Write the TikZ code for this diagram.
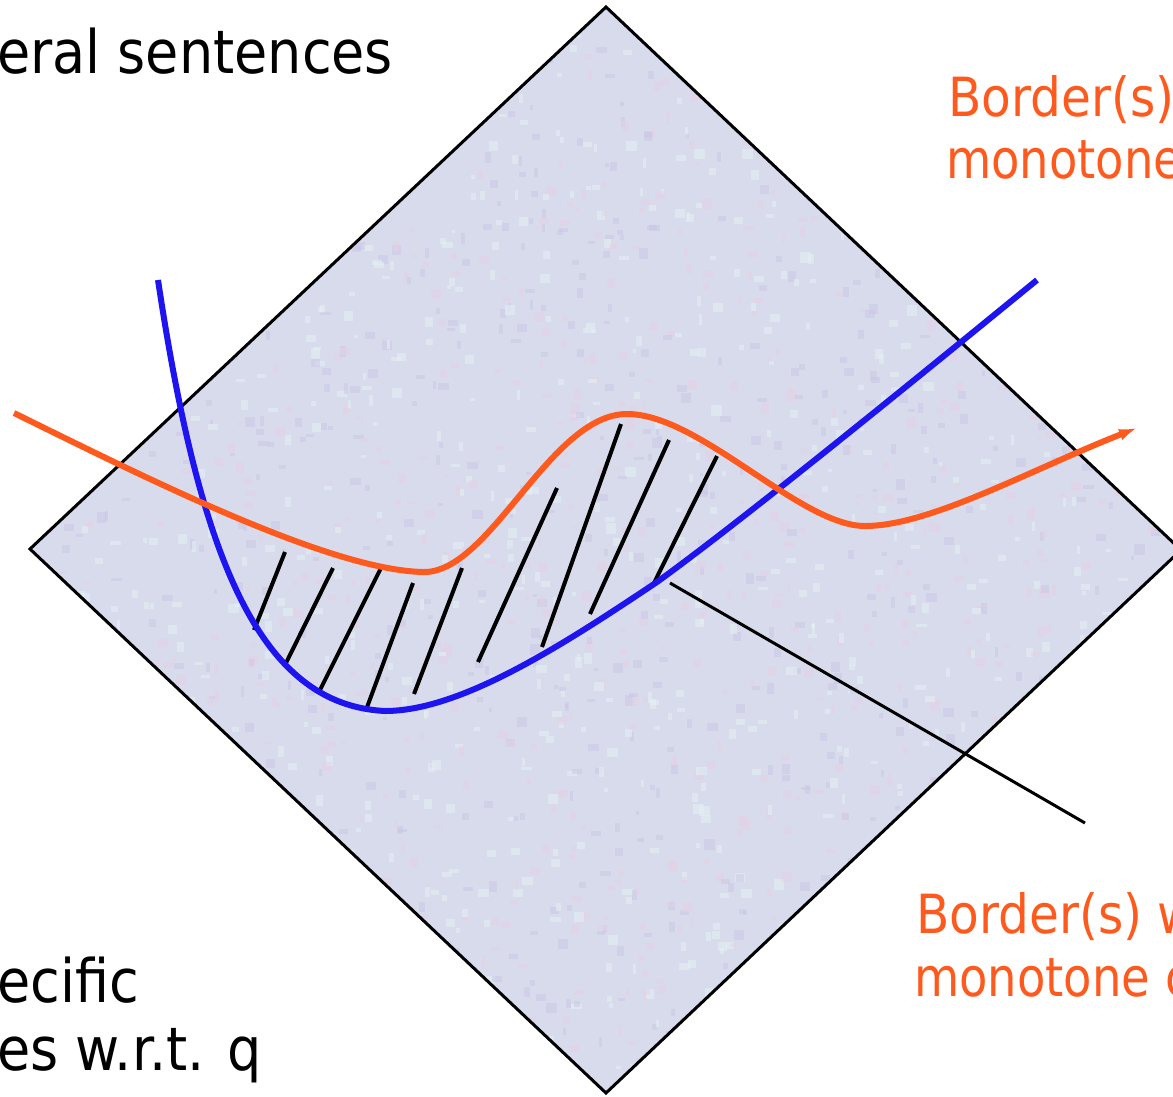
\documentclass[tikz,border=0pt]{standalone}
\usepackage{fontspec}
\setmainfont{DejaVu Sans}
\newfontfamily\labelfont[FakeStretch=0.9]{DejaVu Sans}
\newfontfamily\narrowlabelfont[FakeStretch=0.86]{DejaVu Sans}
\usetikzlibrary{arrows.meta}
\definecolor{bgfill}{RGB}{216,219,236}
\definecolor{bgpink}{RGB}{228,210,230}
\definecolor{bglight}{RGB}{226,240,244}
\definecolor{bgpurple}{RGB}{200,196,228}
\definecolor{borange}{RGB}{255,90,30}
\definecolor{bblue}{RGB}{30,20,240}
\begin{document}
\begin{tikzpicture}[x=1pt,y=-1pt,
  blacklabel/.style={anchor=base west, inner sep=0pt, text=black, font=\labelfont\fontsize{60}{66}\selectfont},
  orangelabel/.style={anchor=base west, inner sep=0pt, text=borange, font=\labelfont\fontsize{54}{60}\selectfont},
  orangenarrow/.style={orangelabel, font=\narrowlabelfont\fontsize{54}{60}\selectfont},
  spacebox/.style={draw=black, line width=3pt, line join=miter},
  bluecurve/.style={draw=bblue, line width=6pt},
  orangecurve/.style={draw=borange, line width=6pt},
  hatchline/.style={draw=black, line width=4pt},
  pointer/.style={draw=black, line width=3pt}]
\useasboundingbox (0,0) rectangle (1173,1096);
% lattice diamond with mottled fill
\fill[bgfill] (606,7) -- (1181,550) -- (606,1093) -- (30,549) -- cycle;
\begin{scope}
  \clip (606,7) -- (1181,550) -- (606,1093) -- (30,549) -- cycle;
  \pgfmathsetseed{11}
  \foreach \i in {1,...,2600} {
    \pgfmathsetmacro{\px}{30+1150*rnd}
    \pgfmathsetmacro{\py}{7+1086*rnd}
    \pgfmathsetmacro{\pw}{3+8*rnd}
    \pgfmathsetmacro{\ph}{3+8*rnd}
    \pgfmathtruncatemacro{\pc}{3*rnd}
    \ifcase\pc
      \fill[bgpink, opacity=0.5] (\px,\py) rectangle ++(\pw,\ph);
    \or
      \fill[bglight, opacity=0.6] (\px,\py) rectangle ++(\pw,\ph);
    \else
      \fill[bgpurple, opacity=0.45] (\px,\py) rectangle ++(\pw,\ph);
    \fi
  }
\end{scope}
\draw[spacebox] (606,7) -- (1181,550) -- (606,1093) -- (30,549) -- cycle;
% hatching between the borders
\draw[hatchline] (285,552) -- (254,630);
\draw[hatchline] (333,568) -- (286,663);
\draw[hatchline] (381,568) -- (318,694);
\draw[hatchline] (413,583) -- (366,710);
\draw[hatchline] (462,568) -- (414,694);
\draw[hatchline] (557,488) -- (478,662);
\draw[hatchline] (621,424) -- (542,647);
\draw[hatchline] (669,440) -- (590,614);
\draw[hatchline] (717,456) -- (654,583);
% blue border
\draw[bluecurve] (158,280) .. controls (200,560) and (260,705) .. (385,711)
  .. controls (460,711) and (560,647) .. (657,582)
  .. controls (740,522) and (900,392) .. (1037,280);
% orange border
\draw[orangecurve, -{Latex[length=18pt,width=12pt]}] (14,413) .. controls (150,480) and (330,570) .. (423,572)
  .. controls (490,574) and (550,414) .. (627,414)
  .. controls (700,414) and (800,526) .. (865,526)
  .. controls (930,526) and (1030,470) .. (1137,428);
% pointer line
\coordinate (ptA) at (670,583);
\coordinate (ptB) at (1085,823);
\draw[pointer] (ptA) -- (ptB);
% labels
\node[blacklabel] (tl) at (-3,73) {eral sentences};
\node[blacklabel] (bl1) at (-3,1002) {ecific};
\node[blacklabel] (bl2) at (-3,1070) {es w.r.t. q};
\node[orangelabel] (tr1) at (948,116) {Border(s)};
\node[orangenarrow] (tr2) at (946,178) {monotone};
\node[orangelabel] (br1) at (916,933) {Border(s) w};
\node[orangenarrow] (br2) at (914,996) {monotone c};
\end{tikzpicture}
\end{document}
